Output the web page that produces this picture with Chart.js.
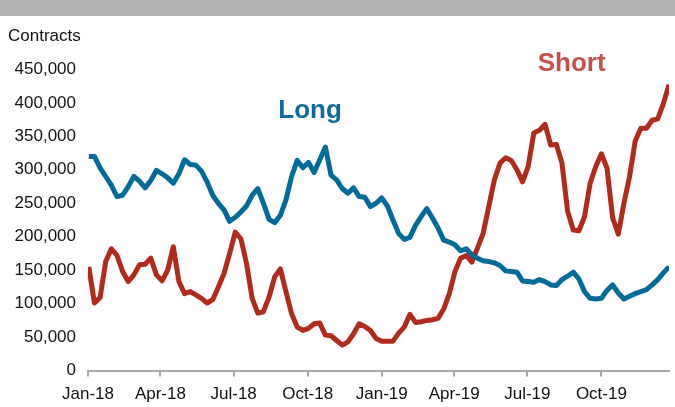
<!DOCTYPE html>
<html>
<head>
<meta charset="utf-8">
<script src="https://cdn.jsdelivr.net/npm/chart.js@4/dist/chart.umd.min.js"></script>
<style>
  html, body { margin: 0; padding: 0; background: #fff; overflow: hidden; }
  #bar { width: 675px; height: 16px; background: #b3b3b3; }
  #wrap { position: relative; width: 675px; height: 397px; }
</style>
</head>
<body>
<div id="bar"></div>
<div id="wrap"><canvas id="chart"></canvas></div>
<script>
// weekly positioning, thousands of contracts (first report 2 Jan 2018)
const longPos = [
  320, 320, 303, 290, 277, 260, 262, 275, 290, 283, 273, 284, 299, 294, 288, 280, 294, 315, 308, 307, 298, 282, 262, 250, 240, 223, 229,
  237, 246, 262, 272, 250, 226, 221, 232, 255, 290, 314, 303, 311, 296, 315, 334, 292, 285, 272, 265, 273, 260, 259, 245, 250, 258,
  246, 225, 205, 196, 199, 217, 230, 242, 228, 213, 195, 192, 188, 179, 182, 173, 168, 164, 163, 161, 157, 149, 148, 147, 134,
  133, 132, 136, 133, 128, 127, 136, 141, 147, 137, 118, 108, 107, 108, 120, 128, 116, 107, 111, 115, 118, 121, 128, 136, 146, 155
];
const shortPos = [
  155, 101, 109, 163, 182, 172, 148, 133, 143, 158, 159, 168, 143, 134, 150, 185, 133, 115, 118, 113, 108, 101, 106, 125, 145, 175, 207,
  197, 160, 108, 86, 88, 110, 140, 152, 118, 85, 65, 60, 63, 70, 71, 53, 52, 45, 38, 43, 55, 70, 66, 60, 48, 44,
  44, 44, 56, 65, 84, 72, 73, 75, 76, 78, 92, 115, 148,
  168, 172, 162, 183, 205, 245, 285, 310, 318, 314, 300, 282, 305, 355, 359, 368, 337, 338, 310, 238, 210, 209, 230, 280, 305, 324, 302, 228, 204, 250, 290, 343, 362, 362, 374, 376, 399, 427
];
// x ticks: day of 2018-01-01 based calendar
const tickDays = [0, 90, 181, 273, 365, 455, 546, 638];
const tickLabels = ['Jan-18', 'Apr-18', 'Jul-18', 'Oct-18', 'Jan-19', 'Apr-19', 'Jul-19', 'Oct-19'];
const firstDay = 1;

const toPoints = arr => arr.map((v, i) => ({ x: firstDay + 7 * i, y: v * 1000 }));

const textFont = "'Liberation Sans', Arial, sans-serif";

const seriesText = {
  id: 'seriesText',
  afterDatasetsDraw(chart) {
    const { ctx, scales } = chart;
    const items = [
      { text: 'Long', day: 276, value: 388000, color: '#0f6b9c' },
      { text: 'Short', day: 601, value: 458000, color: '#c4504a' }
    ];
    ctx.save();
    ctx.font = 'bold 26px ' + textFont;
    ctx.textAlign = 'center';
    ctx.textBaseline = 'middle';
    items.forEach(it => {
      ctx.fillStyle = it.color;
      ctx.fillText(it.text, scales.x.getPixelForValue(it.day), scales.y.getPixelForValue(it.value));
    });
    ctx.restore();
  }
};

new Chart(document.getElementById('chart'), {
  type: 'line',
  data: {
    datasets: [{
      label: 'Long',
      data: toPoints(longPos),
      borderColor: '#006a98',
      borderWidth: 5,
      pointRadius: 0,
      tension: 0,
      borderJoinStyle: 'round'
    }, {
      label: 'Short',
      data: toPoints(shortPos),
      borderColor: '#b12a1b',
      borderWidth: 5,
      pointRadius: 0,
      tension: 0,
      borderJoinStyle: 'round'
    }]
  },
  options: {
    responsive: true,
    maintainAspectRatio: false,
    animation: false,
    layout: { padding: { left: 8, right: 6, top: 0, bottom: 0 } },
    plugins: {
      legend: { display: false },
      tooltip: { enabled: false },
      title: {
        display: true,
        text: 'Contracts',
        align: 'start',
        color: '#111',
        font: { family: textFont, size: 17, weight: 'normal' },
        padding: { top: 10, bottom: 23 }
      }
    },
    scales: {
      x: {
        type: 'linear',
        min: 0,
        max: 722,
        afterBuildTicks: axis => { axis.ticks = tickDays.map(v => ({ value: v })); },
        ticks: {
          color: '#111',
          font: { family: textFont, size: 17 },
          padding: 8,
          maxRotation: 0,
          autoSkip: false,
          callback: (v) => tickLabels[tickDays.indexOf(v)]
        },
        grid: { drawOnChartArea: false, drawTicks: true, tickLength: 6, color: '#a6a6a6', lineWidth: 2 },
        border: { display: true, color: '#a6a6a6', width: 2 }
      },
      y: {
        min: 0,
        max: 450000,
        afterFit: axis => { axis.width = 80; },
        ticks: {
          stepSize: 50000,
          color: '#111',
          padding: 4,
          font: { family: textFont, size: 17 },
          callback: v => v.toLocaleString('en-US')
        },
        grid: { display: false },
        border: { display: false }
      }
    }
  },
  plugins: [seriesText]
});
</script>
</body>
</html>
